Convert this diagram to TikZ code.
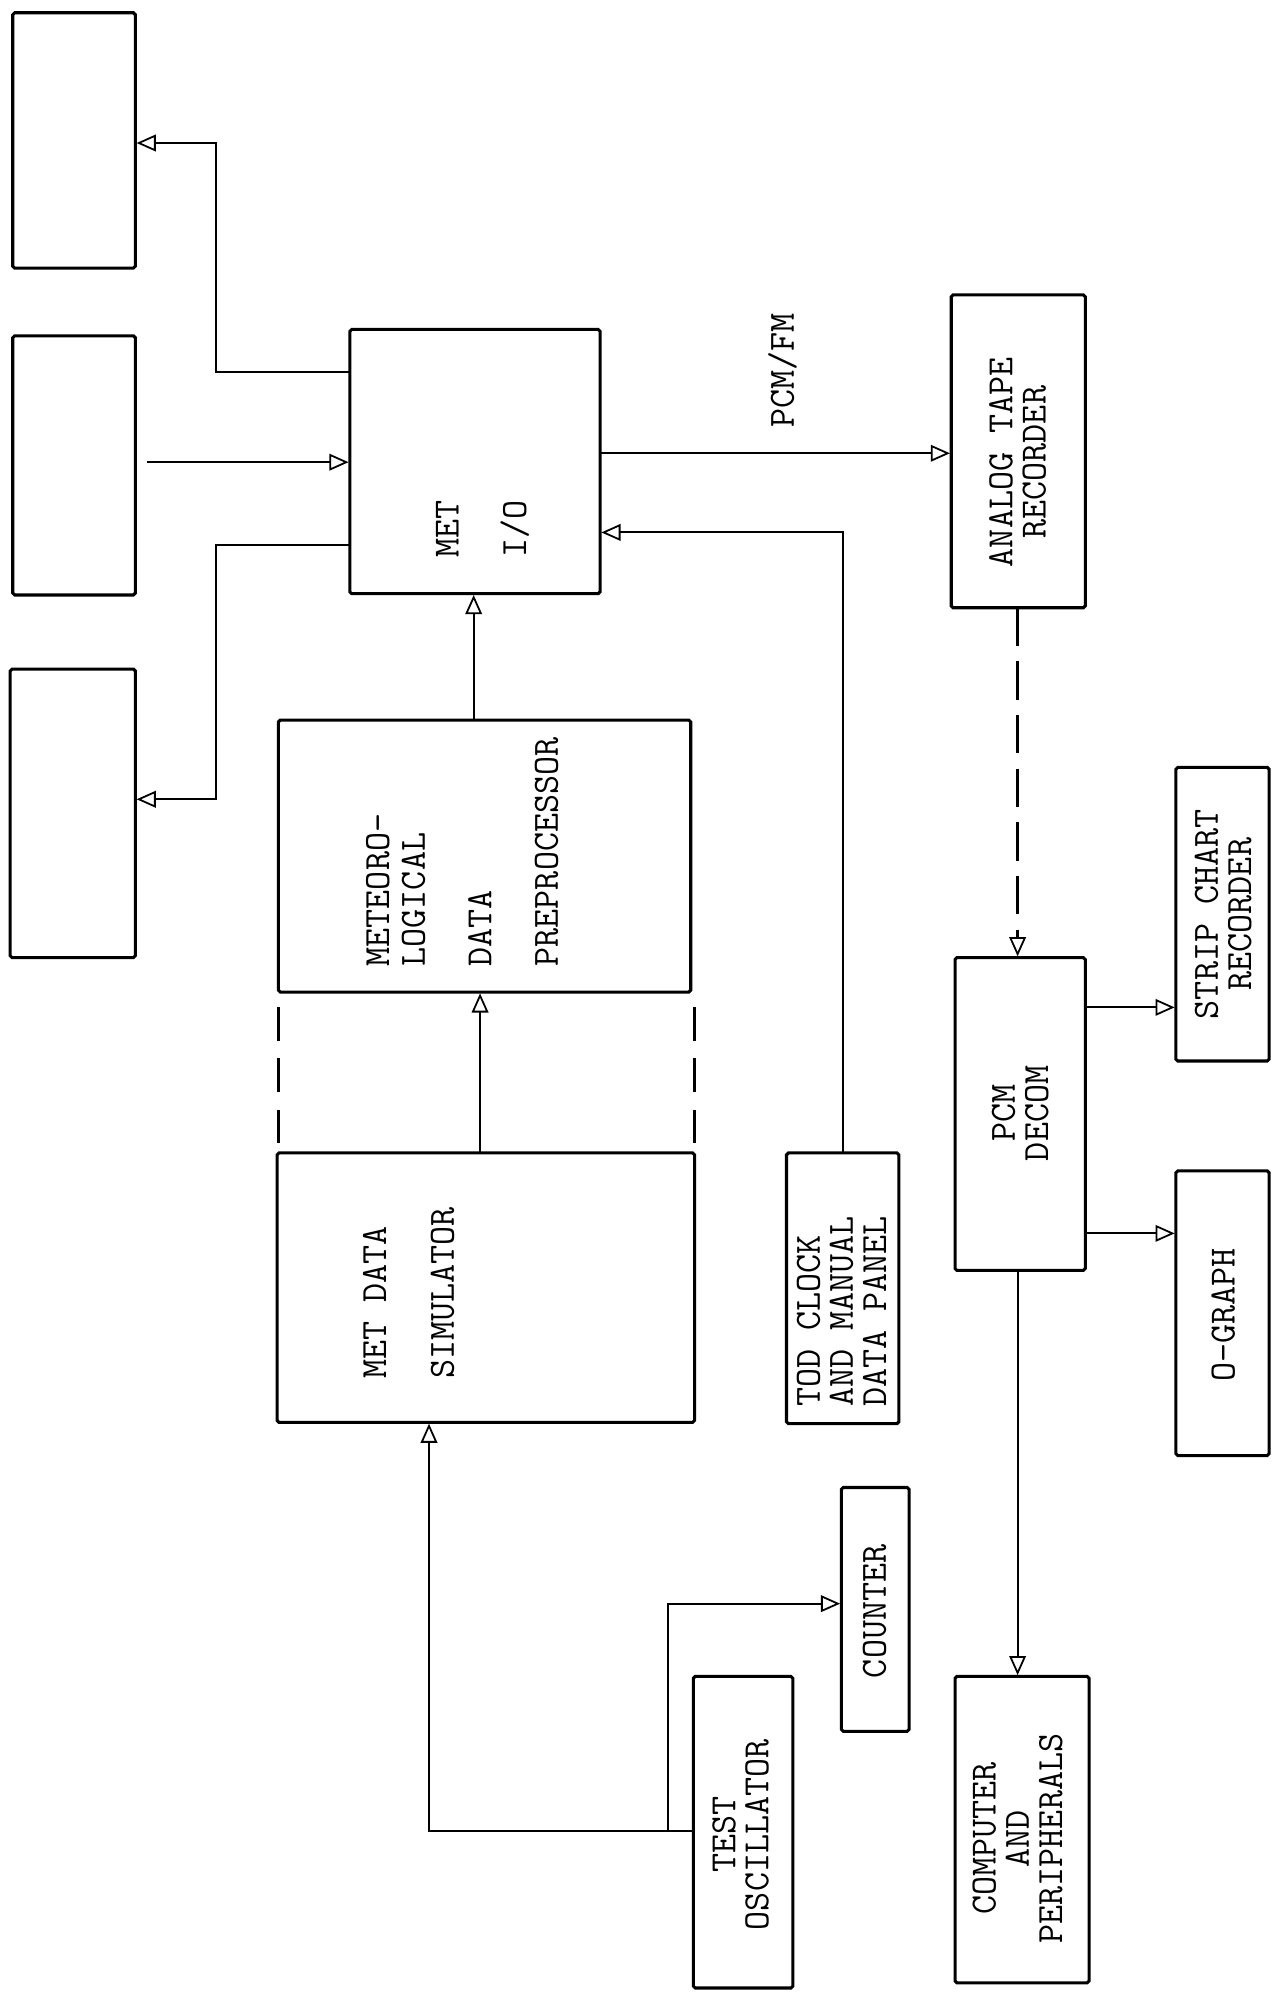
\documentclass[tikz,border=0pt]{standalone}
\usepackage{fontspec}
\usetikzlibrary{arrows.meta}
\begin{document}
\begin{tikzpicture}[x=1pt,y=-1pt,
  box/.style={draw, line width=2.4pt, rounded corners=1.5pt, inner sep=0pt, outer sep=0pt, anchor=north west},
  lbl/.style={font=\ttfamily\fontsize{29}{26}\selectfont, inner sep=0pt, rotate=90, align=center},
  conn/.style={line width=1.6pt},
  arr/.style={conn, shorten >=1pt, -{Triangle[open, length=15pt, width=13pt, line width=1.4pt]}},
  darr/.style={arr, line width=2.2pt, dash pattern=on 30pt off 12pt},
  dline/.style={line width=2.4pt, dash pattern=on 26pt off 14pt},
]
\useasboundingbox (0,0) rectangle (1006,1568);
% boxes
\node[box, minimum width=96pt,  minimum height=200pt] (A) at (10,10) {};
\node[box, minimum width=96pt,  minimum height=203pt] (B) at (10,263) {};
\node[box, minimum width=98pt,  minimum height=226pt] (C) at (8,524) {};
\node[box, minimum width=196pt, minimum height=207pt] (mio) at (274,258) {};
\node[box, minimum width=323pt, minimum height=213pt] (meteo) at (218,564) {};
\node[box, minimum width=327pt, minimum height=211pt] (sim) at (217,903) {};
\node[box, minimum width=88pt,  minimum height=212pt] (tod) at (616,903) {};
\node[box, minimum width=105pt, minimum height=245pt] (atr) at (745,231) {};
\node[box, minimum width=102pt, minimum height=245pt] (pcmd) at (748,750) {};
\node[box, minimum width=73pt,  minimum height=230pt] (strip) at (921,601) {};
\node[box, minimum width=73pt,  minimum height=223pt] (ogr) at (921,917) {};
\node[box, minimum width=53pt,  minimum height=191pt] (counter) at (659,1165) {};
\node[box, minimum width=78pt,  minimum height=244pt] (testo) at (543,1313) {};
\node[box, minimum width=105pt, minimum height=240pt] (comp) at (748,1313) {};
% labels
\node[lbl] (tmio) at (378,414) {MET\\[27pt]I/O};
\node[lbl, align=left, anchor=west] (tmeteo) at (362,757) {METEORO-\\[2pt]LOGICAL\\[26pt]DATA\\[26pt]PREPROCESSOR};
\node[lbl, align=left, anchor=west] (tsim) at (320,1080) {MET DATA\\[27pt]SIMULATOR};
\node[lbl, align=left, anchor=west] (ttod) at (659,1102) {TOD CLOCK\\AND MANUAL\\DATA PANEL};
\node[lbl] (tatr) at (797,362) {ANALOG TAPE\\RECORDER};
\node[lbl] (tpcmd) at (799,872) {PCM\\DECOM};
\node[lbl] (tstrip) at (958,716) {STRIP CHART\\RECORDER};
\node[lbl] (togr) at (958,1030) {O-GRAPH};
\node[lbl] (tcounter) at (685,1262) {COUNTER};
\node[lbl] (ttesto) at (580,1437) {TEST\\OSCILLATOR};
\node[lbl] (tcomp) at (797,1440) {COMPUTER\\AND\\PERIPHERALS};
\node[lbl] (tpcmfm) at (613,290) {PCM/FM};
% connectors
\draw[arr] (mio.west |- 0,291) -| (169,112) -- (A.east |- 0,112);
\draw[arr, shorten <=9pt] (B.east |- 0,362) -- (mio.west |- 0,362);
\draw[arr] (mio.west |- 0,427) -| (169,626) -- (C.east |- 0,626);
\draw[arr] (meteo.north -| 371,0) -- (mio.south -| 371,0);
\draw[arr] (sim.north -| 376,0) -- (meteo.south -| 376,0);
\draw[dline, shorten <=12pt, shorten >=8pt] (meteo.south west) -- (meteo.south west |- sim.north);
\draw[dline, shorten <=12pt, shorten >=8pt] (sim.north east |- meteo.south) -- (sim.north east);
\draw[arr] (tod.north -| 660,0) |- (mio.east |- 0,417);
\draw[arr] (mio.east |- 0,355) -- (atr.west |- 0,355);
\draw[darr] (atr.south -| 797,0) -- (pcmd.north -| 797,0);
\draw[arr] (pcmd.east |- 0,789) -- (strip.west |- 0,789);
\draw[arr] (pcmd.east |- 0,966) -- (ogr.west |- 0,966);
\draw[arr] (pcmd.south -| 797,0) -- (comp.north -| 797,0);
\coordinate (j) at (523,1434);
\draw[arr] (testo.west |- 0,1434) -| (sim.south -| 336,0);
\draw[arr] (j) |- (counter.west |- 0,1256);
\end{tikzpicture}
\end{document}
